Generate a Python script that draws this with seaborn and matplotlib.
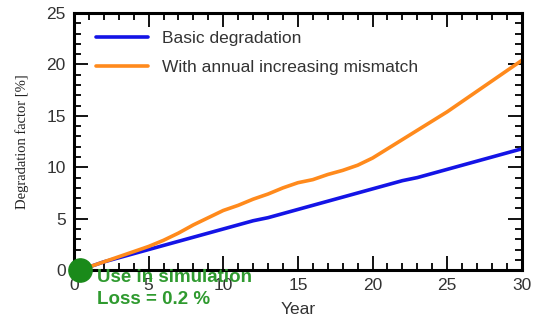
import numpy as np
import pandas as pd
import matplotlib
matplotlib.use("Agg")
import matplotlib.pyplot as plt
import seaborn as sns
from matplotlib.ticker import MultipleLocator

years = list(range(0, 31))
basic = [0.0, 0.3, 0.8, 1.2, 1.6, 2.0, 2.4, 2.8, 3.2, 3.6, 4.0,
         4.4, 4.8, 5.1, 5.5, 5.9, 6.3, 6.7, 7.1, 7.5, 7.9,
         8.3, 8.7, 9.0, 9.4, 9.8, 10.2, 10.6, 11.0, 11.4, 11.8]
mismatch = [0.0, 0.3, 0.8, 1.3, 1.8, 2.3, 2.9, 3.6, 4.4, 5.1, 5.8,
            6.3, 6.9, 7.4, 8.0, 8.5, 8.8, 9.3, 9.7, 10.2, 10.9,
            11.8, 12.7, 13.6, 14.5, 15.4, 16.4, 17.4, 18.4, 19.4, 20.4]
series_names = ["Basic degradation", "With annual increasing mismatch"]
series_colors = ["#1414e6", "#ff8a1c"]
sim_year = 0.4
sim_loss = 0.2

df = pd.DataFrame({
    "Year": years * 2,
    "Degradation": basic + mismatch,
    "Series": [series_names[0]] * len(years) + [series_names[1]] * len(years),
})

sns.set_theme(style="white")
plt.rcParams["font.family"] = ["Liberation Sans", "DejaVu Sans"]

fig = plt.figure(figsize=(5.38, 3.27), dpi=100)
ax = fig.add_axes([0.1375, 0.174, 0.8325, 0.786])

sns.lineplot(data=df, x="Year", y="Degradation", hue="Series",
             palette=series_colors, linewidth=2.6, ax=ax)

# simulation marker at the start of the operating period
ax.scatter([sim_year], [0], s=280, color="#1a8a1a", zorder=5,
           clip_on=False)

ax.set_xlim(0, 30)
ax.set_ylim(0, 25)
ax.xaxis.set_major_locator(MultipleLocator(5))
ax.xaxis.set_minor_locator(MultipleLocator(1))
ax.yaxis.set_major_locator(MultipleLocator(5))
ax.yaxis.set_minor_locator(MultipleLocator(1))
ax.tick_params(which="both", direction="in", top=True, right=True,
               bottom=True, left=True, color="black", width=1.3,
               labelsize=12.5, labelcolor="#333333")
ax.tick_params(which="major", length=10, pad=6)
ax.tick_params(which="minor", length=5)
for s in ax.spines.values():
    s.set_visible(True)
    s.set_color("black")
    s.set_linewidth(2.2)

ax.set_xlabel("Year", fontsize=12.5, color="#333333", labelpad=6)
ax.set_ylabel("Degradation factor [%]", fontsize=10.5,
              family=["Liberation Serif", "DejaVu Serif"], color="#222222",
              labelpad=12)

leg = ax.legend(loc="upper left", frameon=False, fontsize=12.5,
                handlelength=3.0, handletextpad=0.8, labelspacing=0.75,
                bbox_to_anchor=(0.015, 0.99))
for t in leg.get_texts():
    t.set_color("#333333")

ax.text(0.052, 0.005, "Use in simulation", transform=ax.transAxes,
        color="#2f9a2f", fontsize=13.5, fontweight="bold", va="top",
        ha="left", clip_on=False)
ax.text(0.052, -0.08, f"Loss = {sim_loss} %", transform=ax.transAxes,
        color="#2f9a2f", fontsize=13.5, fontweight="bold", va="top",
        ha="left", clip_on=False)

fig.savefig("out.png", dpi=100)
